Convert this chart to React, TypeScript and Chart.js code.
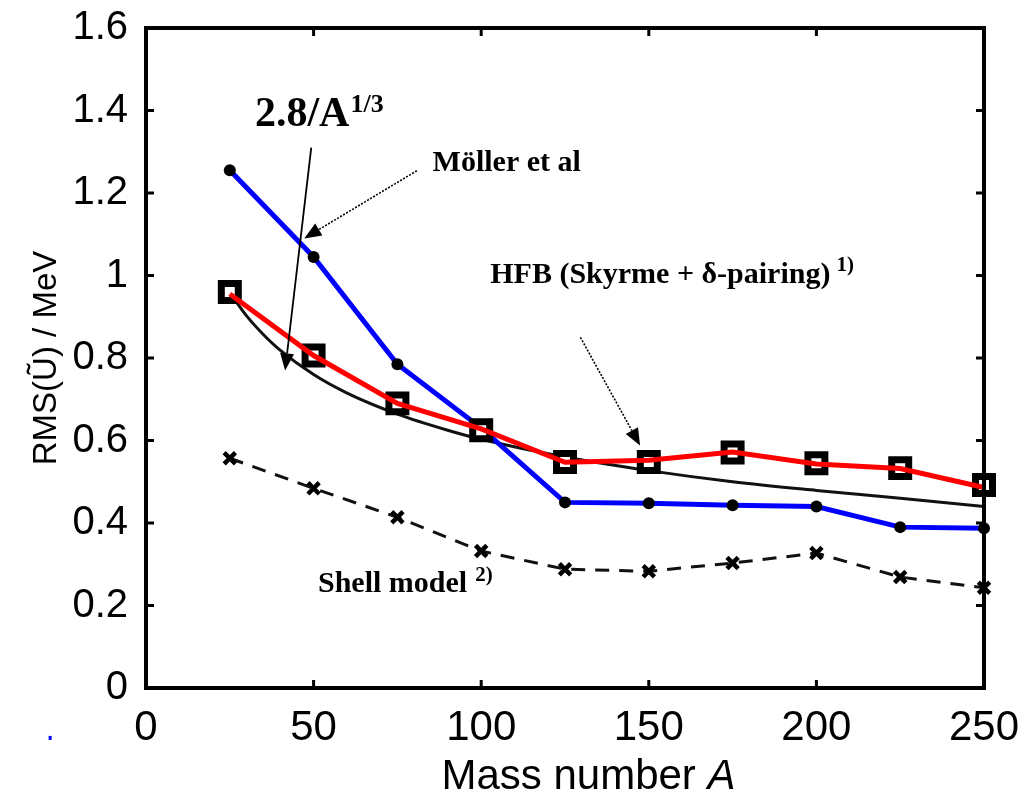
import React, { useEffect, useRef } from 'react';
import { Chart, registerables } from 'chart.js';

Chart.register(...registerables);

// ---- Data ----
const massNumbers = [25, 50, 75, 100, 125, 150, 175, 200, 225, 250];
const mollerValues = [1.255, 1.045, 0.785, 0.63, 0.45, 0.448, 0.443, 0.44, 0.39, 0.387];
const hfbLineValues = [0.955, 0.806, 0.69, 0.628, 0.547, 0.552, 0.572, 0.543, 0.532, 0.486];
const hfbMarkerValues = [0.96, 0.806, 0.69, 0.625, 0.548, 0.548, 0.571, 0.545, 0.533, 0.492];
const shellValues = [0.557, 0.484, 0.414, 0.332, 0.288, 0.283, 0.303, 0.327, 0.269, 0.243];
const curveMass = [25, 30, 35, 40, 50, 60, 75, 90, 100, 125, 150, 175, 200, 225, 250];
const curveValues = [0.958, 0.902, 0.857, 0.819, 0.76, 0.715, 0.664, 0.625, 0.603, 0.56, 0.527, 0.5, 0.479, 0.46, 0.44];
const xTickLabels = ['0', '50', '100', '150', '200', '250'];
const yTickLabels = ['0', '0.2', '0.4', '0.6', '0.8', '1', '1.2', '1.4', '1.6'];
const xTickValues = [0, 50, 100, 150, 200, 250];
const yTickValues = [0, 0.2, 0.4, 0.6, 0.8, 1, 1.2, 1.4, 1.6];

const toPoints = (xs: number[], ys: number[]) => xs.map((x, i) => ({ x, y: ys[i] }));

const SERIF = '"Liberation Serif", "Times New Roman", serif';
const SANS = '"Liberation Sans", Arial, sans-serif';

function drawArrow(ctx: CanvasRenderingContext2D, x1: number, y1: number, x2: number, y2: number, dotted: boolean) {
  const ang = Math.atan2(y2 - y1, x2 - x1);
  const len = 17;
  const hw = 7;
  const c = Math.cos(ang);
  const s = Math.sin(ang);
  const bx = x2 - len * c;
  const by = y2 - len * s;
  ctx.save();
  ctx.strokeStyle = '#000';
  ctx.fillStyle = '#000';
  ctx.lineWidth = dotted ? 1.6 : 1.8;
  ctx.setLineDash(dotted ? [2, 1.5] : []);
  ctx.beginPath();
  ctx.moveTo(x1, y1);
  ctx.lineTo(bx, by);
  ctx.stroke();
  ctx.setLineDash([]);
  ctx.beginPath();
  ctx.moveTo(x2, y2);
  ctx.lineTo(bx + hw * s, by - hw * c);
  ctx.lineTo(bx - hw * s, by + hw * c);
  ctx.closePath();
  ctx.fill();
  ctx.restore();
}

function drawLabel(ctx: CanvasRenderingContext2D, x: number, y: number, text: string, size: number, sup: string, supSize: number, gap: number, rise: number) {
  ctx.save();
  ctx.fillStyle = '#000';
  ctx.textBaseline = 'alphabetic';
  ctx.textAlign = 'left';
  ctx.font = `bold ${size}px ${SERIF}`;
  ctx.fillText(text, x, y);
  const w = ctx.measureText(text).width;
  if (sup) {
    ctx.font = `bold ${supSize}px ${SERIF}`;
    ctx.fillText(sup, x + w + gap, y - rise);
  }
  ctx.restore();
}

const decorPlugin = {
  id: 'decor',
  afterDatasetsDraw(chart: any) {
    const { ctx, chartArea, scales } = chart;
    const { left, right, top, bottom } = chartArea;
    const xs = scales.x;
    const ys = scales.y;
    ctx.save();
    ctx.strokeStyle = '#000';
    ctx.lineWidth = 4;
    ctx.strokeRect(left, top, right - left, bottom - top);
    ctx.lineWidth = 3;
    const tl = 8;
    xTickValues.slice(1, -1).forEach((v) => {
      const px = xs.getPixelForValue(v);
      ctx.beginPath();
      ctx.moveTo(px, bottom);
      ctx.lineTo(px, bottom - tl);
      ctx.moveTo(px, top);
      ctx.lineTo(px, top + tl);
      ctx.stroke();
    });
    yTickValues.slice(1, -1).forEach((v) => {
      const py = ys.getPixelForValue(v);
      ctx.beginPath();
      ctx.moveTo(left, py);
      ctx.lineTo(left + tl, py);
      ctx.moveTo(right, py);
      ctx.lineTo(right - tl, py);
      ctx.stroke();
    });
    ctx.restore();
  },
  afterDraw(chart: any) {
    const { ctx, scales } = chart;
    const X = (v: number) => scales.x.getPixelForValue(v);
    const Y = (v: number) => scales.y.getPixelForValue(v);

    // annotations (anchored in data coordinates)
    drawLabel(ctx, X(32.5), Y(1.363), '2.8/A', 42, '1/3', 26, 1, 14);
    drawArrow(ctx, X(49.3), Y(1.31), X(41.5), Y(0.77), false);

    drawLabel(ctx, X(85.5), Y(1.254), 'Möller et al', 30, '', 0, 0, 0);
    drawArrow(ctx, X(80.8), Y(1.254), X(47.2), Y(1.09), true);

    drawLabel(ctx, X(102.7), Y(0.983), 'HFB (Skyrme + δ-pairing)', 30, '1)', 21, 6, 12);
    drawArrow(ctx, X(129.6), Y(0.85), X(147.4), Y(0.588), true);

    drawLabel(ctx, X(51.3), Y(0.232), 'Shell model', 30, '2)', 21, 8, 11);

    // x-axis title with italic A
    ctx.save();
    ctx.fillStyle = '#000';
    ctx.textBaseline = 'alphabetic';
    ctx.textAlign = 'left';
    const base = 'Mass number ';
    ctx.font = `42px ${SANS}`;
    const w1 = ctx.measureText(base).width;
    ctx.font = `italic 42px ${SANS}`;
    const w2 = ctx.measureText('A').width;
    const cx = X(132);
    const startX = cx - (w1 + w2) / 2;
    const by = chart.height - 8;
    ctx.font = `42px ${SANS}`;
    ctx.fillText(base, startX, by);
    ctx.font = `italic 42px ${SANS}`;
    ctx.fillText('A', startX + w1, by);
    // small stray blue mark of the reference
    ctx.fillStyle = '#0000ff';
    ctx.fillRect(X(-28.6) - 1.5, Y(-0.121) - 2, 3, 4);
    ctx.restore();
  },
};

export default function App() {
  const canvasRef = useRef<HTMLCanvasElement | null>(null);

  useEffect(() => {
    const canvas = canvasRef.current;
    if (!canvas) return;
    const chart = new Chart(canvas, {
      type: 'line',
      data: {
        datasets: [
          {
            label: 'HFB (Skyrme + δ-pairing)',
            data: toPoints(massNumbers, hfbLineValues),
            borderColor: '#ff0000',
            borderWidth: 5,
            pointRadius: 0,
            tension: 0,
            clip: false,
          },
          {
            label: 'HFB points',
            data: toPoints(massNumbers, hfbMarkerValues),
            showLine: false,
            pointStyle: 'rect',
            pointRadius: 12,
            pointBorderWidth: 7,
            pointBorderColor: '#000',
            pointBackgroundColor: '#ffffff',
            clip: false,
          },
          {
            label: 'Möller et al',
            data: toPoints(massNumbers, mollerValues),
            borderColor: '#0000ff',
            borderWidth: 5,
            pointStyle: 'circle',
            pointRadius: 6,
            pointBorderWidth: 0,
            pointBackgroundColor: '#000',
            tension: 0,
            clip: false,
          },
          {
            label: '2.8/A^(1/3)',
            data: toPoints(curveMass, curveValues),
            borderColor: '#111',
            borderWidth: 3,
            pointRadius: 0,
            cubicInterpolationMode: 'monotone',
            clip: false,
          },
          {
            label: 'Shell model',
            data: toPoints(massNumbers, shellValues),
            borderColor: '#111',
            borderWidth: 3,
            borderDash: [14, 10],
            pointStyle: 'crossRot',
            pointRadius: 8,
            pointBorderWidth: 4.5,
            pointBorderColor: '#000',
            tension: 0,
            clip: false,
          },
        ],
      },
      options: {
        responsive: false,
        animation: false,
        layout: { padding: { top: 28, right: 51, left: 0, bottom: 0 } },
        plugins: {
          legend: { display: false },
          tooltip: { enabled: false },
        },
        scales: {
          x: {
            type: 'linear',
            min: 0,
            max: 250,
            afterBuildTicks: (scale: any) => {
              scale.ticks = xTickValues.map((v) => ({ value: v }));
            },
            afterFit: (scale: any) => {
              scale.height = 109;
              scale.paddingLeft = 0;
              scale.paddingRight = 0;
            },
            grid: { display: false, drawTicks: false },
            border: { display: false },
            ticks: {
              autoSkip: false,
              maxRotation: 0,
              padding: 15,
              color: '#000',
              font: { family: SANS, size: 42 },
              callback: (_v: any, i: number) => xTickLabels[i],
            },
          },
          y: {
            type: 'linear',
            min: 0,
            max: 1.6,
            afterBuildTicks: (scale: any) => {
              scale.ticks = yTickValues.map((v) => ({ value: v }));
            },
            afterFit: (scale: any) => {
              scale.width = 146;
              scale.paddingTop = 0;
              scale.paddingBottom = 0;
            },
            grid: { display: false, drawTicks: false },
            border: { display: false },
            title: {
              display: true,
              text: 'RMS(Ũ) / MeV',
              color: '#000',
              font: { family: SANS, size: 33 },
              padding: { top: 27, bottom: 0 },
            },
            ticks: {
              autoSkip: false,
              padding: 18,
              color: '#000',
              font: { family: SANS, size: 40 },
              callback: (_v: any, i: number) => yTickLabels[i],
            },
          },
        },
      },
      plugins: [decorPlugin],
    } as any);
    return () => chart.destroy();
  }, []);

  return (
    <div style={{ position: 'absolute', left: 0, top: 0, width: 1035, height: 797, background: '#fff' }}>
      <canvas ref={canvasRef} width={1035} height={797} />
    </div>
  );
}
